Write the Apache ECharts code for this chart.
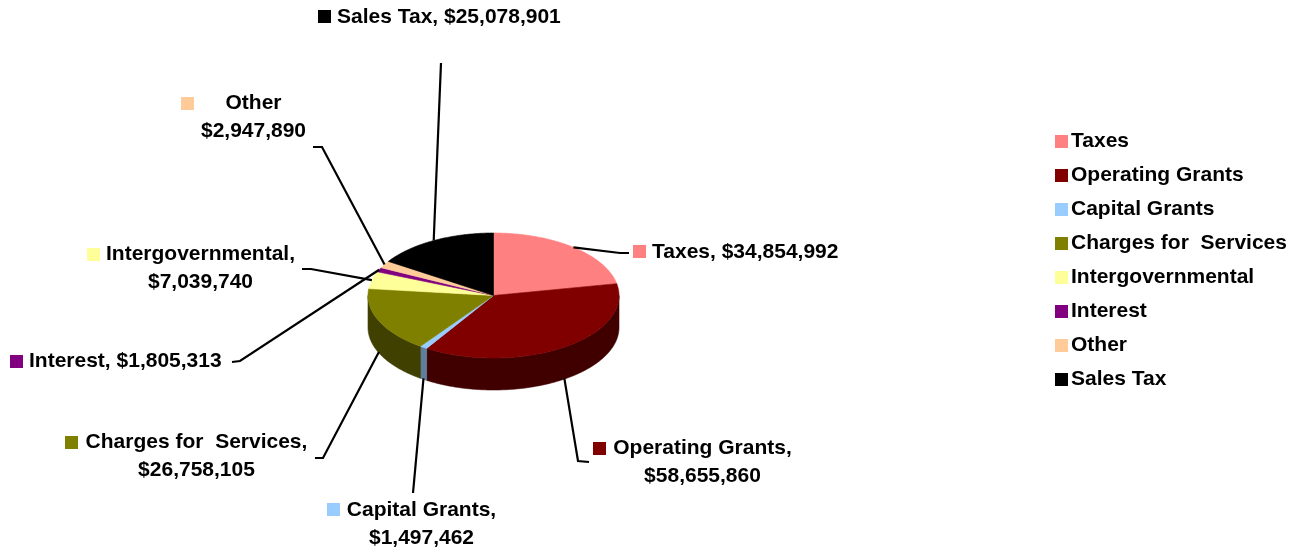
<!DOCTYPE html>
<html><head><meta charset="utf-8">
<script src="https://cdn.jsdelivr.net/npm/echarts@6/dist/echarts.min.js"></script>
<style>html,body{margin:0;padding:0;background:#fff}#c{width:1305px;height:552px}</style>
</head><body><div id="c"></div>
<script>
// ---- data ----
const categories = ['Taxes', 'Operating Grants', 'Capital Grants', 'Charges for  Services', 'Intergovernmental', 'Interest', 'Other', 'Sales Tax'];
const values = [34854992, 58655860, 1497462, 26758105, 7039740, 1805313, 2947890, 25078901];

// ---- styles ----
const topColors = ['#FF8080', '#800000', '#99CCFF', '#808000', '#FFFF99', '#800080', '#FFCC99', '#000000'];
const sideColors = ['#804040', '#400000', '#5E7E9E', '#404000', '#80804C', '#400040', '#80664C', '#000000'];
const FONT = 'bold 21px "Liberation Sans", Arial, sans-serif';
const PIE = { cx: 493.5, cy: 295.5, rx: 125.5, ry: 62.5, depth: 32 };

// label layout (separator between name and value, text anchor, marker, leader bend points)
const labelLayout = [
  { sep: ', ',  align: 'left',   tx: 652,   ty: 252, mx: 633, my: 245, leader: [[620, 253], [629, 253]] },
  { sep: ',\n', align: 'center', tx: 702.5, ty: 448, mx: 593, my: 442, leader: [[578, 461], [589, 462]] },
  { sep: ',\n', align: 'center', tx: 421.5, ty: 510, mx: 327, my: 503, leader: [[413, 493]] },
  { sep: ',\n', align: 'center', tx: 196.5, ty: 442, mx: 65,  my: 436, leader: [[323, 458], [315, 458]] },
  { sep: ',\n', align: 'center', tx: 200.5, ty: 254, mx: 87,  my: 248, leader: [[311, 269], [302, 269]] },
  { sep: ', ',  align: 'left',   tx: 29,    ty: 361, mx: 10,  my: 355, leader: [[240, 361], [232, 362]] },
  { sep: '\n',  align: 'center', tx: 253.5, ty: 103, mx: 181, my: 97,  leader: [[322, 147], [313, 147]] },
  { sep: ', ',  align: 'left',   tx: 337,   ty: 17,  mx: 318, my: 10,  leader: [[441, 63]] }
];

const total = values.reduce((a, b) => a + b, 0);
function fmt(v) { return '$' + v.toString().replace(/\B(?=(\d{3})+(?!\d))/g, ','); }
function P(t, dy) { return [PIE.cx + PIE.rx * Math.sin(t), PIE.cy - PIE.ry * Math.cos(t) + (dy || 0)]; }
function arc(a, b, dy) {
  const n = Math.max(2, Math.ceil((b - a) / 0.01));
  const pts = [];
  for (let k = 0; k <= n; k++) pts.push(P(a + (b - a) * k / n, dy));
  return pts;
}

function renderSlice(i) {
  let before = 0;
  for (let k = 0; k < i; k++) before += values[k];
  const a = before / total * 2 * Math.PI;
  const b = (before + values[i]) / total * 2 * Math.PI;
  const children = [];
  const wa = Math.max(a, Math.PI / 2), wb = Math.min(b, 1.5 * Math.PI);
  if (wb > wa) {
    const top = arc(wa, wb, 0), bot = arc(wa, wb, PIE.depth).reverse();
    children.push({ type: 'polygon', z2: 1, shape: { points: top.concat(bot) },
      style: { fill: sideColors[i], stroke: sideColors[i], lineWidth: 0.6 } });
  }
  children.push({ type: 'polygon', z2: 2, shape: { points: [[PIE.cx, PIE.cy]].concat(arc(a, b, 0)) },
    style: { fill: topColors[i], stroke: topColors[i], lineWidth: 0.6 } });

  const m = (a + b) / 2;
  const anchor = Math.cos(m) < 0 ? P(m, PIE.depth - 1) : P(m, 0);
  const L = labelLayout[i];
  children.push({ type: 'polyline', z2: 5, shape: { points: [anchor].concat(L.leader) },
    style: { stroke: '#000', lineWidth: 2.2, fill: null } });
  children.push({ type: 'rect', z2: 6, shape: { x: L.mx, y: L.my, width: 13, height: 13 },
    style: { fill: topColors[i] } });
  children.push({ type: 'text', z2: 6, style: {
    text: categories[i] + L.sep + fmt(values[i]),
    x: L.tx, y: L.ty - 14, font: FONT, fill: '#000',
    align: L.align, textAlign: L.align, verticalAlign: 'top', textVerticalAlign: 'top', lineHeight: 28 } });
  return children;
}

const chart = echarts.init(document.getElementById('c'), null, { renderer: 'canvas' });
chart.setOption({
  animation: false,
  backgroundColor: '#fff',
  legend: {
    orient: 'vertical', left: 1050, top: 126, itemWidth: 13, itemHeight: 13, itemGap: 13,
    icon: 'rect', data: categories, selectedMode: false,
    textStyle: { fontSize: 21, fontWeight: 'bold', fontFamily: '"Liberation Sans", Arial, sans-serif', color: '#000', padding: [0, 0, 0, -2] }
  },
  series: categories.map((name, i) => ({
    type: 'custom', name: name, coordinateSystem: 'none', silent: true,
    data: [[values[i]]],
    itemStyle: { color: topColors[i] },
    renderItem: function () { return { type: 'group', children: renderSlice(i) }; }
  }))
});
</script></body></html>
